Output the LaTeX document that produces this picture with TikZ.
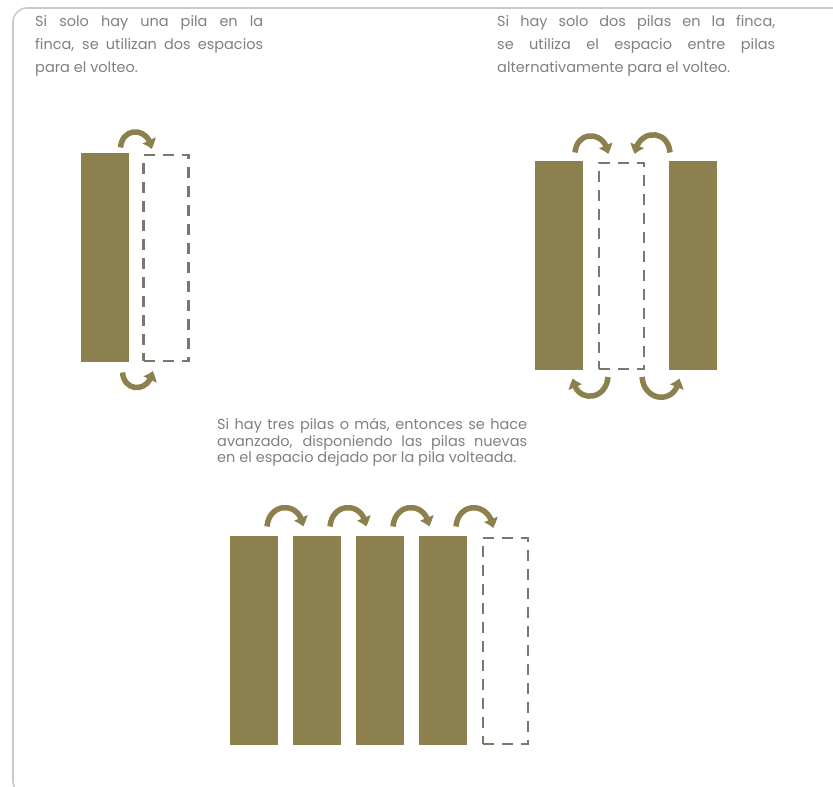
\documentclass[tikz,border=0pt]{standalone}
\usepackage{fontspec}
\setmainfont{Poppins}
\usepackage{xcolor}
\definecolor{oliva}{RGB}{140,129,78}
\definecolor{gristrazo}{RGB}{122,120,106}
\definecolor{gristexto}{RGB}{128,128,128}
\definecolor{marcogris}{RGB}{200,205,196}
\usepackage{tikz}
\usetikzlibrary{arrows.meta,positioning,bending}
\tikzset{
  >={Triangle[width=14pt,length=9pt,bend]},
  pila/.style={rectangle,fill=oliva,inner sep=0pt,outer sep=0pt,minimum width=48pt,minimum height=209pt},
  hueco/.style={pila,fill=none,draw=gristrazo,line width=2.8pt,dash pattern=on 11pt off 8pt,minimum width=45pt,minimum height=206pt},
  volteo/.style={->,line width=5.5pt,draw=oliva},
  texto/.style={anchor=north west,inner sep=0pt,text=gristexto,align=justify,text width=#1},
  marco/.style={draw=marcogris,line width=1.6pt,rounded corners=14pt}
}

\begin{document}
\begin{tikzpicture}[x=1pt,y=1pt,font=\fontsize{14.5}{23}\selectfont]
  \useasboundingbox (0,0) rectangle (833,787);
  \draw[marco] (870,779) -- (13,779) -- (13,-8) -- (60,-8);

  % una pila
  \node[texto=228pt] (txtuno) at (35,772) {Si solo hay una pila en la\linebreak finca, se utilizan dos espacios\linebreak para el volteo.};
  \node[pila] (uno) at (104.5,529) {};
  \node[hueco,right=15pt of uno] (unoh) {};
  \draw[volteo] ([xshift=-8pt,yshift=6pt]uno.north east) to[out=85,in=95,looseness=1.8] ([xshift=8pt,yshift=6pt]unoh.north west);
  \draw[volteo] ([xshift=-6pt,yshift=-10pt]uno.south east) to[out=-85,in=-95,looseness=1.8] ([xshift=9pt,yshift=-10pt]unoh.south west);

  % dos pilas
  \node[texto=278pt] (txtdos) at (497,772) {Si hay solo dos pilas en la finca,\linebreak se utiliza el espacio entre pilas\linebreak alternativamente para el volteo.};
  \node[pila] (dosa) at (559,521) {};
  \node[hueco,right=16pt of dosa] (dosh) {};
  \node[pila,right=25pt of dosh] (dosb) {};
  \draw[volteo] ([xshift=-8pt,yshift=9pt]dosa.north east) to[out=85,in=95,looseness=1.8] ([xshift=9pt,yshift=9pt]dosh.north west);
  \draw[volteo] ([xshift=1pt,yshift=9pt]dosb.north west) to[out=95,in=85,looseness=1.8] ([xshift=-9pt,yshift=9pt]dosh.north east);
  \draw[volteo] ([xshift=9pt,yshift=-8pt]dosh.south west) to[out=-95,in=-85,looseness=1.8] ([xshift=-10pt,yshift=-8pt]dosa.south east);
  \draw[volteo] ([xshift=-2pt,yshift=-8pt]dosh.south east) to[out=-85,in=-95,looseness=1.8] ([xshift=10pt,yshift=-8pt]dosb.south west);

  % tres pilas o mas
  \node[texto=310pt,font=\fontsize{14.5}{16.5}\selectfont] (txttres) at (217,369) {\parfillskip=0pt Si hay tres pilas o más, entonces se hace\linebreak avanzado, disponiendo las pilas nuevas\linebreak en el espacio dejado por la pila volteada.};
  \node[pila] (tresa) at (254,146) {};
  \node[pila,right=15pt of tresa] (tresb) {};
  \node[pila,right=15pt of tresb] (tresc) {};
  \node[pila,right=15pt of tresc] (tresd) {};
  \node[hueco,right=16pt of tresd] (tresh) {};
  \foreach \a/\b in {tresa/tresb,tresb/tresc,tresc/tresd,tresd/tresh}
    \draw[volteo] ([xshift=-11pt,yshift=10pt]\a.north east) to[out=85,in=95,looseness=1.8] ([xshift=10pt,yshift=10pt]\b.north west);
\end{tikzpicture}
\end{document}
